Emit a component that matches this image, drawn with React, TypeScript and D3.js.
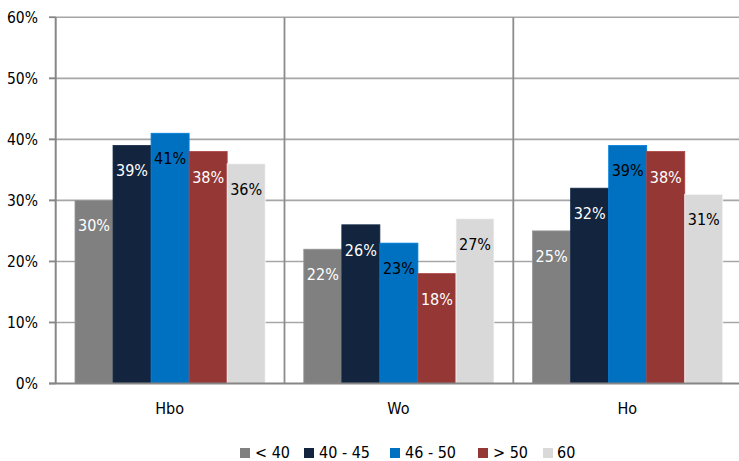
import React from "react";
import * as d3 from "d3";

const categories = ["Hbo", "Wo", "Ho"];
const seriesNames = ["< 40", "40 - 45", "46 - 50", "> 50", "60"];
const seriesColors = ["#808080", "#12243e", "#0070c0", "#953735", "#d9d9d9"];
const labelColors = ["#ffffff", "#ffffff", "#000000", "#ffffff", "#000000"];
const valuesLt40 = [30, 22, 25];
const values40to45 = [39, 26, 32];
const values46to50 = [41, 23, 39];
const valuesGt50 = [38, 18, 38];
const values60 = [36, 27, 31];
const seriesValues = [valuesLt40, values40to45, values46to50, valuesGt50, values60];
const yTicks = [0, 10, 20, 30, 40, 50, 60];

const W = 739;
const H = 461;
const FONT = "'DejaVu Sans Condensed', 'DejaVu Sans', sans-serif";

export default function App() {
  const plotLeft = 55.7;
  const plotRight = 742.1;
  const plotTop = 17.3;
  const plotBottom = 383.5;

  const x0 = d3.scaleBand<string>().domain(categories).range([plotLeft, plotRight]).padding(0);
  const groupPad = 19.3;
  const x1 = d3
    .scaleBand<number>()
    .domain(d3.range(seriesNames.length))
    .range([groupPad, x0.bandwidth() - groupPad])
    .padding(0);
  const y = d3.scaleLinear().domain([0, 60]).range([plotBottom, plotTop]);

  const legendItems = [
    { sq: 240, tx: 255 },
    { sq: 304, tx: 319 },
    { sq: 390, tx: 405 },
    { sq: 478, tx: 493 },
    { sq: 543, tx: 557 },
  ];

  return (
    <svg
      width={W}
      height={H}
      style={{ position: "absolute", left: 0, top: 0, background: "#fff" }}
      fontFamily={FONT}
    >
      <rect x={0} y={0} width={W} height={H} fill="#ffffff" />
      {yTicks.filter((t) => t !== 0).map((t) => (
        <line key={t} x1={49} x2={plotRight} y1={y(t)} y2={y(t)} stroke="#a6a6a6" strokeWidth={1.6} />
      ))}
      {categories.slice(1).map((c) => (
        <line key={c} x1={x0(c)!} x2={x0(c)!} y1={plotTop} y2={plotBottom} stroke="#8c8c8c" strokeWidth={1.8} />
      ))}
      {categories.map((c, ci) => (
        <g key={c} transform={`translate(${x0(c)},0)`}>
          {seriesValues.map((vals, si) => {
            const v = vals[ci];
            const bx = x1(si)!;
            const bw = x1.bandwidth();
            const col = d3.color(seriesColors[si])!.brighter(0.4).formatHex();
            return (
              <g key={si}>
                <rect
                  x={bx}
                  y={y(v)}
                  width={bw}
                  height={plotBottom - y(v)}
                  fill={seriesColors[si]}
                  stroke={col}
                  strokeWidth={0.8}
                />
                <text
                  x={bx + bw / 2}
                  y={y(v) + 31}
                  textAnchor="middle"
                  fontSize={16}
                  fill={labelColors[si]}
                >
                  {v}%
                </text>
              </g>
            );
          })}
        </g>
      ))}
      <line x1={plotLeft} x2={plotLeft} y1={plotTop} y2={plotBottom} stroke="#868686" strokeWidth={2} />
      <line x1={49} x2={plotRight} y1={plotBottom} y2={plotBottom} stroke="#868686" strokeWidth={2} />
      {yTicks.map((t) => (
        <g key={t}>
          <line x1={49} x2={plotLeft} y1={y(t)} y2={y(t)} stroke="#868686" strokeWidth={1.6} />
          <text x={38} y={y(t) + 5.5} textAnchor="end" fontSize={15.5} fill="#000">
            {t}%
          </text>
        </g>
      ))}
      {categories.map((c) => (
        <text key={c} x={x0(c)! + x0.bandwidth() / 2 - 0.5} y={414} textAnchor="middle" fontSize={16} fill="#000">
          {c}
        </text>
      ))}
      {seriesNames.map((n, i) => (
        <g key={n}>
          <rect x={legendItems[i].sq} y={448} width={10} height={10} fill={seriesColors[i]} />
          <text x={legendItems[i].tx} y={457.5} fontSize={16} fill="#000" xmlSpace="preserve">
            {n}
          </text>
        </g>
      ))}
    </svg>
  );
}
